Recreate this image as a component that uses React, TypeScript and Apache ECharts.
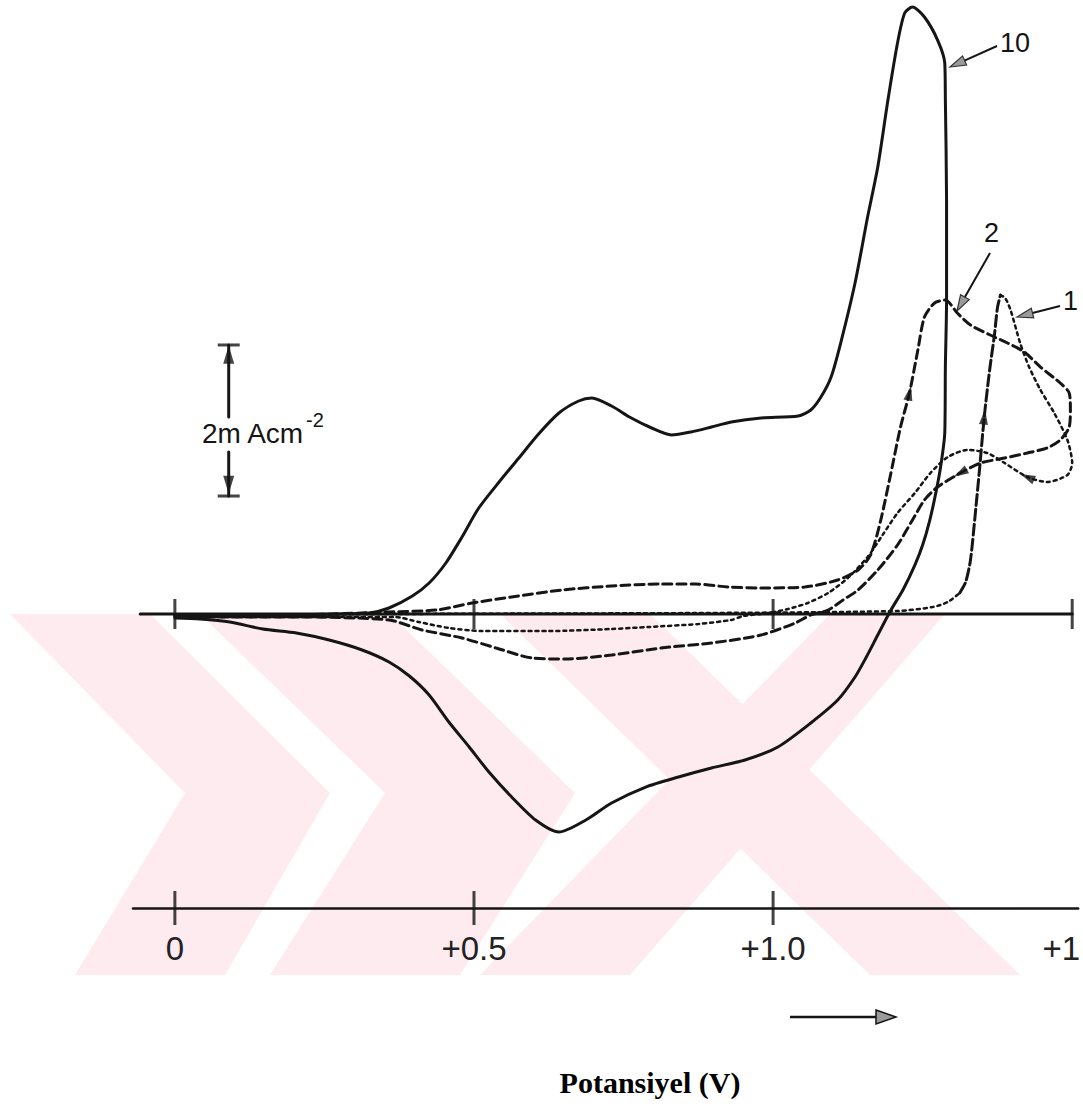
import React, { useEffect, useRef } from "react";
import * as echarts from "echarts";

type P = [number, number];

// ---- axis definitions (potential in V, current in mA/cm2) ----
const X_MIN = -0.07;
const X_MAX = 1.51;
const Y_MIN = -3.92;
const Y_MAX = 8.12;
const X_TICKS = [0, 0.5, 1.0, 1.5];
const X_TICK_LABELS = ["0", "+0.5", "+1.0", "+1"];
const BASELINE_TICKS = [0, 0.5, 1.0, 1.5];
const AXIS_TICKS = [0, 0.5, 1.0];
const BASELINE: P[] = [[-0.058, 0], [1.5, 0]];

// ---- scan 10 (solid) ----
const CURVE10: P[] = [
  [0, -0.027], [0.075, -0.027], [0.142, -0.027], [0.208, -0.013], [0.275, 0], [0.325, 0.013],
  [0.358, 0.08], [0.397, 0.24], [0.425, 0.413], [0.453, 0.68], [0.48, 1.027], [0.508, 1.413],
  [0.542, 1.76], [0.575, 2.08], [0.608, 2.4], [0.642, 2.68], [0.675, 2.84], [0.697, 2.88],
  [0.73, 2.773], [0.763, 2.613], [0.797, 2.48], [0.83, 2.387], [0.863, 2.427], [0.897, 2.493],
  [0.93, 2.56], [0.98, 2.613], [1.042, 2.64], [1.063, 2.72], [1.08, 2.893], [1.097, 3.16],
  [1.113, 3.613], [1.137, 4.413], [1.158, 5.293], [1.175, 5.96], [1.192, 6.853], [1.208, 7.613],
  [1.22, 8.013], [1.233, 8.093], [1.253, 7.96], [1.275, 7.653], [1.287, 7.347], [1.288, 6.853],
  [1.29, 5.52], [1.29, 4.187], [1.288, 3.293], [1.287, 2.413], [1.28, 1.96], [1.272, 1.613],
  [1.262, 1.253], [1.25, 0.92], [1.237, 0.653], [1.217, 0.32], [1.197, 0.053], [1.175, -0.28],
  [1.155, -0.587], [1.137, -0.84], [1.108, -1.147], [1.063, -1.453], [1.008, -1.773],
  [0.953, -1.947], [0.897, -2.053], [0.842, -2.173], [0.787, -2.307], [0.73, -2.52],
  [0.687, -2.747], [0.642, -2.907], [0.603, -2.747], [0.563, -2.44], [0.525, -2.107],
  [0.492, -1.773], [0.458, -1.44], [0.425, -1.08], [0.392, -0.827], [0.358, -0.64],
  [0.313, -0.48], [0.258, -0.347], [0.203, -0.253], [0.147, -0.2], [0.092, -0.107],
  [0.042, -0.067], [0, -0.053],
];

// ---- scan 2 (dashed) ----
const CURVE2: P[] = [
  [0, -0.027], [0.208, -0.013], [0.358, 0.027], [0.437, 0.053], [0.497, 0.147], [0.563, 0.227],
  [0.647, 0.32], [0.73, 0.373], [0.813, 0.4], [0.87, 0.4], [0.925, 0.36], [0.98, 0.347],
  [1.053, 0.36], [1.108, 0.453], [1.142, 0.587], [1.163, 0.787], [1.18, 1.253], [1.197, 1.88],
  [1.213, 2.493], [1.228, 2.947], [1.242, 3.52], [1.253, 3.96], [1.27, 4.147], [1.288, 4.187],
  [1.308, 4.013], [1.33, 3.853], [1.363, 3.72], [1.392, 3.613], [1.42, 3.493], [1.447, 3.293],
  [1.48, 3.08], [1.495, 2.947], [1.497, 2.72], [1.495, 2.493], [1.48, 2.32], [1.458, 2.213],
  [1.425, 2.147], [1.387, 2.08], [1.347, 2.013], [1.313, 1.88], [1.275, 1.693], [1.253, 1.52],
  [1.233, 1.253], [1.208, 0.92], [1.175, 0.587], [1.142, 0.32], [1.117, 0.187], [1.092, 0.053],
  [1.063, -0.013], [1.037, -0.12], [0.98, -0.28], [0.897, -0.387], [0.813, -0.453],
  [0.73, -0.547], [0.653, -0.6], [0.597, -0.587], [0.537, -0.453], [0.48, -0.32],
  [0.413, -0.213], [0.358, -0.08], [0.208, -0.04], [0, -0.04],
];

// ---- scan 1 (dotted) ----
const CURVE1_BASE: P[] = [
  [0, -0.027], [0.375, 0], [0.875, 0.013], [1.208, 0.04], [1.267, 0.093], [1.292, 0.16], [1.312, 0.28],
];
const CURVE1_RISE: P[] = [
  [1.312, 0.28], [1.322, 0.427], [1.33, 0.72], [1.337, 1.253], [1.345, 1.92], [1.353, 2.627],
  [1.362, 3.253], [1.37, 3.72], [1.375, 4.08], [1.38, 4.253],
];
const CURVE1_RETURN: P[] = [
  [1.38, 4.253], [1.388, 4.213], [1.397, 4.053], [1.413, 3.613], [1.428, 3.293], [1.447, 2.987],
  [1.47, 2.68], [1.492, 2.32], [1.5, 2.013], [1.492, 1.853], [1.458, 1.76], [1.425, 1.827],
  [1.387, 2.013], [1.358, 2.147], [1.325, 2.187], [1.292, 2.093], [1.263, 1.88], [1.237, 1.613],
  [1.208, 1.347], [1.183, 1.053], [1.158, 0.76], [1.125, 0.48], [1.092, 0.28], [1.058, 0.147],
  [1.025, 0.067], [0.992, 0.013], [0.95, -0.027], [0.93, -0.08], [0.875, -0.133], [0.792, -0.173],
  [0.73, -0.2], [0.625, -0.227], [0.513, -0.227], [0.458, -0.187], [0.408, -0.107],
  [0.367, -0.04], [0.208, -0.04], [0, -0.04],
];

// scan-direction marks: [potential, current, rotation deg]
const DIRECTION_MARKS: [number, number, number][] = [
  [1.228, 2.947, -12],
  [1.353, 2.627, -6],
  [1.313, 1.88, 119],
  [1.425, 1.827, 66],
];

// current scale bar: 2 mA cm-2
const SCALE_X = 0.09;
const SCALE_LOW = 1.573;
const SCALE_HIGH = 3.587;
const SCALE_GAP_LOW = 2.16;
const SCALE_GAP_HIGH = 2.627;

const INK = "#151515";
const WATERMARK = "#fdebef";

function head(tip: P, from: P, len: number, half: number): P[] {
  const dx = tip[0] - from[0];
  const dy = tip[1] - from[1];
  const d = Math.hypot(dx, dy);
  const ux = dx / d;
  const uy = dy / d;
  const bx = tip[0] - ux * len;
  const by = tip[1] - uy * len;
  return [
    [tip[0], tip[1]],
    [bx - uy * half, by + ux * half],
    [bx + uy * half, by - ux * half],
  ];
}

function calloutArrow(from: P, tip: P): any[] {
  const h = head(tip, from, 16, 5);
  const dx = tip[0] - from[0];
  const dy = tip[1] - from[1];
  const d = Math.hypot(dx, dy);
  const end: P = [tip[0] - (dx / d) * 14, tip[1] - (dy / d) * 14];
  return [
    {
      type: "line",
      shape: { x1: from[0], y1: from[1], x2: end[0], y2: end[1] },
      style: { stroke: INK, lineWidth: 2 },
    },
    {
      type: "polygon",
      shape: { points: h },
      style: { fill: "#9a9a9a", stroke: "#333", lineWidth: 1.2 },
    },
  ];
}

const SANS = "'Liberation Sans', Arial, Helvetica, sans-serif";

function txt(x: number, y: number, text: string, fontSize: number, extra: any = {}) {
  return {
    type: "text",
    x,
    y,
    z: 10,
    style: {
      text,
      fontSize,
      fontFamily: SANS,
      fill: INK,
      align: "left",
      verticalAlign: "middle",
      textAlign: "left",
      textVerticalAlign: "middle",
      ...extra,
    },
  };
}

// faint background watermark of the scanned page (pixel outline)
function watermark(points: P[]) {
  return {
    type: "polygon",
    z: -10,
    silent: true,
    shape: { points },
    style: { fill: WATERMARK, stroke: "none" },
  };
}

export default function App() {
  const ref = useRef<HTMLDivElement>(null);

  useEffect(() => {
    const chart = echarts.init(ref.current!, null, { renderer: "svg" });

    const line = (data: P[], width: number, type: any, z = 3) => ({
      type: "line",
      data,
      symbol: "none",
      showSymbol: false,
      smooth: 0.25,
      clip: false,
      silent: true,
      z,
      lineStyle: { color: INK, width, type, cap: "round" },
    });

    const option: any = {
      animation: false,
      backgroundColor: "#ffffff",
      grid: { left: 133, top: 5, width: 948, height: 903, containLabel: false },
      xAxis: {
        type: "value",
        min: X_MIN,
        max: X_MAX,
        z: 5,
        axisLine: { show: true, onZero: false, lineStyle: { color: INK, width: 2.5 } },
        axisTick: { show: false },
        splitLine: { show: false },
        axisLabel: {
          show: true,
          customValues: X_TICKS,
          margin: 24,
          color: "#222",
          fontSize: 33,
          fontFamily: SANS,
          formatter: (v: number) => {
            const i = X_TICKS.findIndex((t) => Math.abs(t - v) < 1e-6);
            const s = i >= 0 ? X_TICK_LABELS[i] : String(v);
            return i === X_TICKS.length - 1 ? "{r|" + s + "}" : s;
          },
          rich: { r: { fontSize: 33, fontFamily: SANS, color: "#222", padding: [0, 22, 0, 0] } },
        },
      },
      yAxis: {
        type: "value",
        min: Y_MIN,
        max: Y_MAX,
        show: false,
        splitLine: { show: false },
      },
      series: [
        line(BASELINE, 3, "solid", 2),
        {
          type: "scatter",
          data: BASELINE_TICKS.map((v) => [v, 0]),
          symbol: "rect",
          symbolSize: [3, 30],
          itemStyle: { color: INK },
          silent: true,
          clip: false,
          z: 4,
        },
        {
          type: "scatter",
          data: AXIS_TICKS.map((v) => [v, Y_MIN]),
          symbol: "rect",
          symbolSize: [3, 34],
          itemStyle: { color: INK },
          silent: true,
          clip: false,
          z: 4,
        },
        line(CURVE10, 3, "solid", 5),
        line(CURVE2, 3, [9, 5], 4),
        line(CURVE1_BASE, 2.5, [3, 4], 4),
        line(CURVE1_RISE, 3, [11, 4], 4),
        line(CURVE1_RETURN, 2.5, [3, 4], 4),
        {
          type: "scatter",
          data: DIRECTION_MARKS.map((d) => ({ value: [d[0], d[1]], symbolRotate: d[2] })),
          symbol: "triangle",
          symbolSize: [9, 15],
          itemStyle: { color: INK },
          silent: true,
          clip: false,
          z: 6,
        },
        // scale bar
        line([[SCALE_X, SCALE_GAP_HIGH], [SCALE_X, SCALE_HIGH]], 3, "solid", 4),
        line([[SCALE_X, SCALE_LOW], [SCALE_X, SCALE_GAP_LOW]], 3, "solid", 4),
        {
          type: "scatter",
          data: [[SCALE_X, SCALE_HIGH], [SCALE_X, SCALE_LOW]],
          symbol: "rect",
          symbolSize: [22, 3],
          itemStyle: { color: INK },
          silent: true,
          clip: false,
          z: 4,
        },
        {
          type: "scatter",
          data: [
            { value: [SCALE_X, SCALE_HIGH - 0.13], symbolRotate: 0 },
            { value: [SCALE_X, SCALE_LOW + 0.15], symbolRotate: 180 },
          ],
          symbol: "triangle",
          symbolSize: [11, 18],
          itemStyle: { color: INK },
          silent: true,
          clip: false,
          z: 4,
        },
      ],
      graphic: [
        watermark([[10, 614], [150, 614], [330, 793], [225, 975], [75, 975], [185, 793]]),
        watermark([[200, 614], [390, 614], [575, 793], [460, 975], [270, 975], [385, 793]]),
        watermark([[480, 975], [630, 975], [945, 614], [830, 614]]),
        watermark([[500, 614], [650, 614], [1020, 975], [870, 975]]),
        txt(202, 433, "2m Acm", 28),
        txt(306, 420, "-2", 20),
        txt(1000, 43, "10", 27),
        txt(984, 233, "2", 27),
        txt(1063, 301, "1", 27),
        ...calloutArrow([997, 46], [950, 67]),
        ...calloutArrow([990, 253], [957, 311]),
        ...calloutArrow([1060, 306], [1017, 317]),
        {
          type: "line",
          shape: { x1: 790, y1: 1017, x2: 878, y2: 1017 },
          style: { stroke: INK, lineWidth: 2.5 },
        },
        {
          type: "polygon",
          shape: { points: [[876, 1010], [896, 1017], [876, 1024]] },
          style: { fill: "#9a9a9a", stroke: INK, lineWidth: 1.5 },
        },
        txt(650, 1082, "Potansiyel (V)", 30, {
          fontWeight: "bold",
          fontFamily: "'Liberation Serif', 'Times New Roman', serif",
          fill: "#000",
          align: "center",
          textAlign: "center",
        }),
      ],
    };

    chart.setOption(option);
    return () => chart.dispose();
  }, []);

  return (
    <div
      ref={ref}
      style={{ position: "fixed", left: 0, top: 0, width: 1083, height: 1108, background: "#fff" }}
    />
  );
}
